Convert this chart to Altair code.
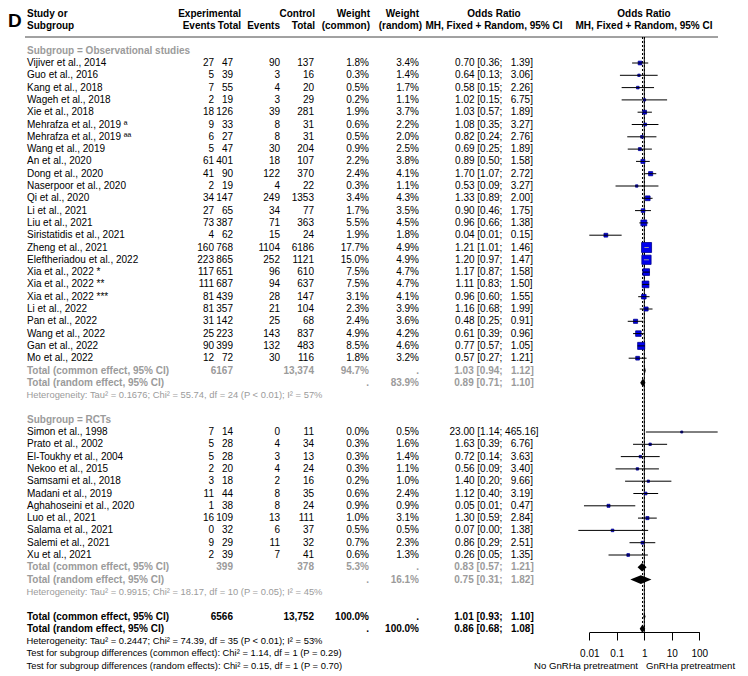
import math
import altair as alt
import pandas as pd

FONT = "Liberation Sans"
FS = 10
FS_SM = 9.4
GRAY = "#9b9b9b"
NB = "\u00a0"

# ---------------- data ----------------
obs_study = [
    "Vijiver et al., 2014", "Guo et al., 2016", "Kang et al., 2018", "Wageh et al., 2018",
    "Xie et al., 2018", "Mehrafza et al., 2019 ª", "Mehrafza et al., 2019 ªª", "Wang et al., 2019",
    "An et al., 2020", "Dong et al., 2020", "Naserpoor et al., 2020", "Qi et al., 2020",
    "Li et al., 2021", "Liu et al., 2021", "Siristatidis et al., 2021", "Zheng et al., 2021",
    "Eleftheriadou et al., 2022", "Xia et al., 2022 *", "Xia et al., 2022 **", "Xia et al., 2022 ***",
    "Li et al., 2022", "Pan et al., 2022", "Wang et al., 2022", "Gan et al., 2022", "Mo et al., 2022"]
obs_exp_events = [27, 5, 7, 2, 18, 9, 6, 5, 61, 41, 2, 34, 27, 73, 4, 160, 223, 117, 111, 81, 81, 31, 25, 90, 12]
obs_exp_total = [47, 39, 55, 19, 126, 33, 27, 47, 401, 90, 19, 147, 65, 387, 62, 768, 865, 651, 687, 439, 357, 142, 223, 399, 72]
obs_ctl_events = [90, 3, 4, 3, 39, 8, 8, 30, 18, 122, 4, 249, 34, 71, 15, 1104, 252, 96, 94, 28, 21, 25, 143, 132, 30]
obs_ctl_total = [137, 16, 20, 29, 281, 31, 31, 204, 107, 370, 22, 1353, 77, 363, 24, 6186, 1121, 610, 637, 147, 104, 68, 837, 483, 116]
obs_w_common = [1.8, 0.3, 0.5, 0.2, 1.9, 0.6, 0.5, 0.9, 2.2, 2.4, 0.3, 3.4, 1.7, 5.5, 1.9, 17.7, 15.0, 7.5, 7.5, 3.1, 2.3, 2.4, 4.9, 8.5, 1.8]
obs_w_random = [3.4, 1.4, 1.7, 1.1, 3.7, 2.2, 2.0, 2.5, 3.8, 4.1, 1.1, 4.3, 3.5, 4.5, 1.8, 4.9, 4.9, 4.7, 4.7, 4.1, 3.9, 3.6, 4.2, 4.6, 3.2]
obs_or = [0.70, 0.64, 0.58, 1.02, 1.03, 1.08, 0.82, 0.69, 0.89, 1.70, 0.53, 1.33, 0.90, 0.96, 0.04, 1.21, 1.20, 1.17, 1.11, 0.96, 1.16, 0.48, 0.61, 0.77, 0.57]
obs_lo = [0.36, 0.13, 0.15, 0.15, 0.57, 0.35, 0.24, 0.25, 0.50, 1.07, 0.09, 0.89, 0.46, 0.66, 0.01, 1.01, 0.97, 0.87, 0.83, 0.60, 0.68, 0.25, 0.39, 0.57, 0.27]
obs_hi = [1.39, 3.06, 2.26, 6.75, 1.89, 3.27, 2.76, 1.89, 1.58, 2.72, 3.27, 2.00, 1.75, 1.38, 0.15, 1.46, 1.47, 1.58, 1.50, 1.55, 1.99, 0.91, 0.96, 1.05, 1.21]

rct_study = [
    "Simon et al., 1998", "Prato et al., 2002", "El-Toukhy et al., 2004", "Nekoo et al., 2015",
    "Samsami et al., 2018", "Madani et al., 2019", "Aghahoseini et al., 2020", "Luo et al., 2021",
    "Salama et al., 2021", "Salemi et al., 2021", "Xu et al., 2021"]
rct_exp_events = [7, 5, 5, 2, 3, 11, 1, 16, 0, 9, 2]
rct_exp_total = [14, 28, 28, 20, 18, 44, 38, 109, 32, 29, 39]
rct_ctl_events = [0, 4, 3, 4, 2, 8, 8, 13, 6, 11, 7]
rct_ctl_total = [11, 34, 13, 24, 16, 35, 24, 111, 37, 32, 41]
rct_w_common = [0.0, 0.3, 0.3, 0.3, 0.2, 0.6, 0.9, 1.0, 0.5, 0.7, 0.6]
rct_w_random = [0.5, 1.6, 1.4, 1.1, 1.0, 2.4, 0.9, 3.1, 0.5, 2.3, 1.3]
rct_or = [23.00, 1.63, 0.72, 0.56, 1.40, 1.12, 0.05, 1.30, 0.07, 0.86, 0.26]
rct_lo = [1.14, 0.39, 0.14, 0.09, 0.20, 0.40, 0.0064, 0.59, 0.004, 0.29, 0.05]
rct_hi = [465.16, 6.76, 3.63, 3.40, 9.66, 3.19, 0.47, 2.84, 1.38, 2.51, 1.35]

# pooled results: obs common, obs random, rct common, rct random, all common, all random
pool_or = [1.03, 0.89, 0.83, 0.75, 1.01, 0.86]
pool_lo = [0.94, 0.71, 0.57, 0.31, 0.93, 0.68]
pool_hi = [1.12, 1.10, 1.21, 1.82, 1.10, 1.08]

sub_exp_total = [6167, 399]
sub_ctl_total = [13374, 378]
sub_w_common = [94.7, 5.3]
sub_w_random = [83.9, 16.1]
all_exp_total = 6566
all_ctl_total = 13752

het_obs = "Heterogeneity: Tau² = 0.1676; Chi² = 55.74, df = 24 (P < 0.01); I² = 57%"
het_rct = "Heterogeneity: Tau² = 0.9915; Chi² = 18.17, df = 10 (P = 0.05); I² = 45%"
het_all = "Heterogeneity: Tau² = 0.2447; Chi² = 74.39, df = 35 (P < 0.01); I² = 53%"
test_common = "Test for subgroup differences (common effect): Chi² = 1.14, df = 1 (P = 0.29)"
test_random = "Test for subgroup differences (random effects): Chi² = 0.15, df = 1 (P = 0.70)"

x_ticks = [0.01, 0.1, 1, 10, 100]
label_left = "No GnRHa pretreatment"
label_right = "GnRHa pretreatment"

# ---------------- scales / layout ----------------
X_RANGE = [581.3, 691.3]
DECADE = (X_RANGE[1] - X_RANGE[0]) / 4.0
SIZE_DOMAIN = [0, 17.7]
SIZE_RANGE = [4, 100]

YS = alt.Scale(domain=[0, 50], range=[42.7, 657.7], zero=False, nice=False)
XS = alt.Scale(type="log", domain=[0.01, 100], range=X_RANGE, nice=False)
XAX = alt.Axis(values=x_ticks, format="~g", title=None, grid=False, tickSize=8, labelPadding=8,
               labelFont=FONT, labelFontSize=10, labelColor="black", tickColor="black",
               domainColor="black", labelFlush=False, labelOverlap=False)
TONE = alt.Scale(domain=["k", "g"], range=["#000000", GRAY])


# ---------------- helpers ----------------
def fmt_n(n):
    return f"{n:,}" if n >= 10000 else str(n)


def fmt_ci(est, lo, hi):
    h = f"{hi:.2f}"
    return f"{est:.2f}{NB}[{lo:.2f};{NB}{NB * (6 - len(h))}{h}]"


table = []


def add(row, name="", e_ev="", e_tot="", c_ev="", c_tot="", wf="", wr="", ci="", tone="k", bold=False):
    table.append(dict(row=row, name=name, e_ev=e_ev, e_tot=e_tot, c_ev=c_ev, c_tot=c_tot,
                      wf=wf, wr=wr, ci=ci, tone=tone, bold=bold))


forest = []


def add_group(start_row, names, ee, et, ce, ct, wc, wrn, orr, lo, hi):
    for i in range(len(names)):
        r = start_row + i
        add(r, names[i], str(ee[i]), str(et[i]), str(ce[i]), str(ct[i]),
            f"{wc[i]:.1f}%", f"{wrn[i]:.1f}%", fmt_ci(orr[i], lo[i], hi[i]))
        side = math.sqrt(SIZE_RANGE[0] + (SIZE_RANGE[1] - SIZE_RANGE[0]) * wc[i] / SIZE_DOMAIN[1])
        ci_px = DECADE * math.log10(hi[i] / lo[i])
        forest.append(dict(row=r, est=orr[i], lo=lo[i], hi=hi[i], w=wc[i],
                           inside="in" if ci_px < side else "out"))


add(0, "Subgroup = Observational studies", tone="g", bold=True)
add_group(1, obs_study, obs_exp_events, obs_exp_total, obs_ctl_events, obs_ctl_total,
          obs_w_common, obs_w_random, obs_or, obs_lo, obs_hi)
add(26, "Total (common effect, 95% CI)", e_tot=fmt_n(sub_exp_total[0]), c_tot=fmt_n(sub_ctl_total[0]),
    wf=f"{sub_w_common[0]:.1f}%", wr=".", ci=fmt_ci(pool_or[0], pool_lo[0], pool_hi[0]), tone="g", bold=True)
add(27, "Total (random effect, 95% CI)", wf=".", wr=f"{sub_w_random[0]:.1f}%",
    ci=fmt_ci(pool_or[1], pool_lo[1], pool_hi[1]), tone="g", bold=True)
add(30, "Subgroup = RCTs", tone="g", bold=True)
add_group(31, rct_study, rct_exp_events, rct_exp_total, rct_ctl_events, rct_ctl_total,
          rct_w_common, rct_w_random, rct_or, rct_lo, rct_hi)
add(42, "Total (common effect, 95% CI)", e_tot=fmt_n(sub_exp_total[1]), c_tot=fmt_n(sub_ctl_total[1]),
    wf=f"{sub_w_common[1]:.1f}%", wr=".", ci=fmt_ci(pool_or[2], pool_lo[2], pool_hi[2]), tone="g", bold=True)
add(43, "Total (random effect, 95% CI)", wf=".", wr=f"{sub_w_random[1]:.1f}%",
    ci=fmt_ci(pool_or[3], pool_lo[3], pool_hi[3]), tone="g", bold=True)
add(46, "Total (common effect, 95% CI)", e_tot=fmt_n(all_exp_total), c_tot=fmt_n(all_ctl_total),
    wf="100.0%", wr=".", ci=fmt_ci(pool_or[4], pool_lo[4], pool_hi[4]), tone="k", bold=True)
add(47, "Total (random effect, 95% CI)", wf=".", wr="100.0%",
    ci=fmt_ci(pool_or[5], pool_lo[5], pool_hi[5]), tone="k", bold=True)

df = pd.DataFrame(table)
df_norm = df[~df["bold"]].drop(columns=["bold"])
df_bold = df[df["bold"]].drop(columns=["bold"])
df_forest = pd.DataFrame(forest)

het = pd.DataFrame(dict(row=[28, 44, 48, 49, 50],
                        text=[het_obs, het_rct, het_all, test_common, test_random],
                        tone=["g", "g", "k", "k", "k"]))

pool_rows = [26, 27, 42, 43, 46, 47]
HALF = 0.35
dia = []
for i in range(len(pool_or)):
    r = pool_rows[i]
    dia.append(dict(grp=i, x=pool_lo[i], yt=r, yb=r))
    dia.append(dict(grp=i, x=pool_or[i], yt=r - HALF, yb=r + HALF))
    dia.append(dict(grp=i, x=pool_hi[i], yt=r, yb=r))
df_dia = pd.DataFrame(dia)

refs = pd.DataFrame(dict(v=[1.0, pool_or[4], pool_or[5]], kind=["null", "common", "random"]))

layers = []

# header labels
hdr = [
    (-3, "Study or", 19, "left"), (-2, "Subgroup", 19, "left"),
    (-3, "Experimental", 233, "right"), (-2, "Events", 207.5, "right"), (-2, "Total", 233, "right"),
    (-3, "Control", 307, "right"), (-2, "Events", 272, "right"), (-2, "Total", 307, "right"),
    (-3, "Weight", 362, "right"), (-2, "(common)", 362, "right"),
    (-3, "Weight", 411, "right"), (-2, "(random)", 414, "right"),
    (-3, "Odds Ratio", 486, "center"), (-2, "MH, Fixed + Random, 95% CI", 486, "center"),
    (-3, "Odds Ratio", 636, "center"), (-2, "MH, Fixed + Random, 95% CI", 636, "center"),
]
for r, t, xp, al in hdr:
    layers.append(
        alt.Chart(pd.DataFrame(dict(row=[r], t=[t])))
        .mark_text(align=al, baseline="middle", font=FONT, fontSize=FS, fontWeight="bold", color="black")
        .encode(x=alt.value(xp), y=alt.Y("row:Q", scale=YS, axis=None), text="t:N")
    )

# panel letter
layers.append(
    alt.Chart(pd.DataFrame(dict(t=["D"])))
    .mark_text(align="left", baseline="middle", font=FONT, fontSize=19, fontWeight="bold", color="black")
    .encode(x=alt.value(0), y=alt.value(13), text="t:N")
)

# header rule
layers.append(
    alt.Chart(pd.DataFrame(dict(a=[0])))
    .mark_rule(color="#444444", strokeWidth=1)
    .encode(x=alt.value(17), x2=alt.value(710), y=alt.value(29))
)

# table columns
cols = [("name", 19, "left"), ("e_ev", 206, "right"), ("e_tot", 225, "right"),
        ("c_ev", 272, "right"), ("c_tot", 306, "right"), ("wf", 361, "right"),
        ("wr", 411, "right"), ("ci", 486, "center")]
for d, wgt in ((df_norm, "normal"), (df_bold, "bold")):
    for field, xp, al in cols:
        layers.append(
            alt.Chart(d)
            .mark_text(align=al, baseline="middle", font=FONT, fontSize=FS, fontWeight=wgt)
            .encode(x=alt.value(xp), y=alt.Y("row:Q", scale=YS, axis=None), text=f"{field}:N",
                    color=alt.Color("tone:N", scale=TONE, legend=None))
        )

# heterogeneity / tests
layers.append(
    alt.Chart(het)
    .mark_text(align="left", baseline="middle", font=FONT, fontSize=FS_SM)
    .encode(x=alt.value(18.5), y=alt.Y("row:Q", scale=YS, axis=None), text="text:N",
            color=alt.Color("tone:N", scale=TONE, legend=None))
)

# reference lines
layers.append(
    alt.Chart(refs[refs["kind"] == "null"])
    .mark_rule(color="black", strokeWidth=1)
    .encode(x=alt.X("v:Q", scale=XS, axis=XAX), y=alt.value(29), y2=alt.value(624.3))
)
layers.append(
    alt.Chart(refs[refs["kind"] != "null"])
    .mark_rule(color="black", strokeWidth=1, strokeDash=[2, 2])
    .encode(x=alt.X("v:Q", scale=XS, axis=XAX), y=alt.value(29), y2=alt.value(624.3))
)

# squares
layers.append(
    alt.Chart(df_forest)
    .mark_square(filled=True, color="#0000ee", stroke="#00008b", strokeWidth=0.8, opacity=1)
    .encode(x=alt.X("est:Q", scale=XS, axis=XAX), y=alt.Y("row:Q", scale=YS, axis=None),
            size=alt.Size("w:Q", scale=alt.Scale(domain=SIZE_DOMAIN, range=SIZE_RANGE), legend=None))
)

# CI lines (drawn over squares; white where the interval lies inside the square)
layers.append(
    alt.Chart(df_forest)
    .mark_rule(strokeWidth=1)
    .encode(x=alt.X("lo:Q", scale=XS, axis=XAX), x2="hi:Q", y=alt.Y("row:Q", scale=YS, axis=None),
            color=alt.Color("inside:N", scale=alt.Scale(domain=["out", "in"], range=["#3a3a3a", "#ffffff"]),
                            legend=None))
)

# diamonds
layers.append(
    alt.Chart(df_dia)
    .mark_area(color="black", orient="vertical", opacity=1)
    .encode(x=alt.X("x:Q", scale=XS, axis=XAX), y=alt.Y("yt:Q", scale=YS, axis=None),
            y2="yb:Q", detail="grp:N")
)

# bottom labels
layers.append(
    alt.Chart(pd.DataFrame(dict(row=[50], t=[label_left])))
    .mark_text(align="right", baseline="middle", font=FONT, fontSize=9.6, color="black")
    .encode(x=alt.value(630), y=alt.Y("row:Q", scale=YS, axis=None), text="t:N")
)
layers.append(
    alt.Chart(pd.DataFrame(dict(row=[50], t=[label_right])))
    .mark_text(align="left", baseline="middle", font=FONT, fontSize=9.6, color="black")
    .encode(x=alt.value(638), y=alt.Y("row:Q", scale=YS, axis=None), text="t:N")
)

chart = (
    alt.layer(*layers)
    .properties(width=732, height=624,
                padding={"left": 0, "top": 0, "right": 0, "bottom": 40},
                autosize=alt.AutoSizeParams(type="none"),
                background="white")
    .configure_view(stroke=None)
)

chart.save("out.html", embed_options={"renderer": "svg", "actions": False})
